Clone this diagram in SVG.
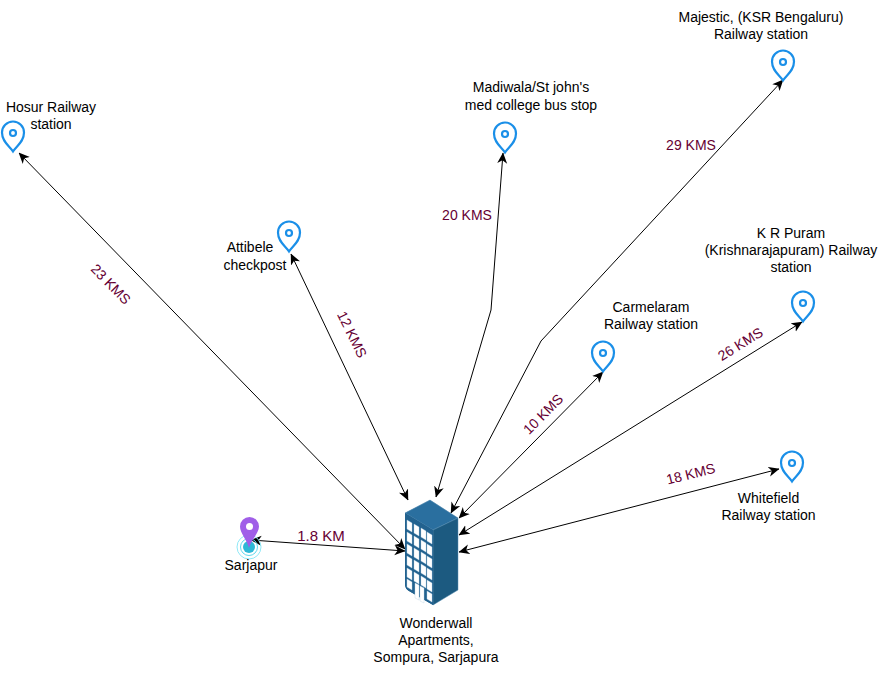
<svg xmlns="http://www.w3.org/2000/svg" width="881" height="675" viewBox="0 0 881 675">
<style>
text{font-family:"Liberation Sans",Arial,Helvetica,sans-serif;font-size:14px;fill:#000;text-anchor:middle}
.km{font-size:14px;fill:#660033}
.c{fill:none;stroke:#000;stroke-width:1;marker-start:url(#a);marker-end:url(#a)}
.pin{fill:none;stroke:#1a8fe8;stroke-width:2.2;stroke-linejoin:miter}
.win{fill:#fff;stroke:#bcd4e6;stroke-width:.4}
</style>
<defs>
<marker id="a" viewBox="0 0 10 10" refX="9.5" refY="5" markerWidth="11" markerHeight="11" markerUnits="userSpaceOnUse" orient="auto-start-reverse"><path d="M0 .5L10 5L0 9.500L2.800 5Z" fill="#000"/></marker>
<g id="p"><path class="pin" d="M0 15.500C-3.500 10-11 6-11 -3.500A11 11 0 0 1 11 -3.500C11 6 3.500 10 0 15.500Z"/><circle class="pin" cx="0" cy="-3" r="3" stroke-width="1.800"/></g>
</defs>
<g id="connectors">
<path class="c" d="M405 549L19 153"/>
<path class="c" d="M408 500L291 254"/>
<path class="c" d="M436 497L491 310L503 153"/>
<path class="c" d="M451 513L541 341L783 80"/>
<path class="c" d="M459 518L603 372"/>
<path class="c" d="M459 535L802 322"/>
<path class="c" d="M459 552L779 469"/>
<path class="c" d="M251 540L405 551"/>
</g>
<g id="labels">
<text class="km" transform="translate(110 285) rotate(45.500)" dominant-baseline="middle">23 KMS</text>
<text class="km" transform="translate(351 335) rotate(64)" dominant-baseline="middle">12 KMS</text>
<text class="km" x="467" y="220">20 KMS</text>
<text class="km" x="691" y="150">29 KMS</text>
<text class="km" transform="translate(544 415) rotate(-45)" dominant-baseline="middle">10 KMS</text>
<text class="km" transform="translate(741 345) rotate(-32)" dominant-baseline="middle">26 KMS</text>
<text class="km" transform="translate(691 475) rotate(-14)" dominant-baseline="middle">18 KMS</text>
<text class="km" x="321" y="541" style="font-size:15px">1.8 KM</text>
</g>
<g id="hosur"><use href="#p" x="13" y="136"/><text x="51" y="112">Hosur Railway</text><text x="51" y="129">station</text></g>
<g id="attibele"><use href="#p" x="289" y="236"/><text x="250" y="252">Attibele</text><text x="255" y="270">checkpost</text></g>
<g id="madiwala"><use href="#p" x="505" y="137"/><text x="531" y="92">Madiwala/St john's</text><text x="531" y="110">med college bus stop</text></g>
<g id="majestic"><use href="#p" x="783" y="65"/><text x="761" y="22">Majestic, (KSR Bengaluru)</text><text x="761" y="39">Railway station</text></g>
<g id="carmelaram"><use href="#p" x="603" y="356"/><text x="651" y="312">Carmelaram</text><text x="651" y="329">Railway station</text></g>
<g id="krpuram"><use href="#p" x="803" y="306"/><text x="791" y="238">K R Puram</text><text x="791" y="255">(Krishnarajapuram) Railway</text><text x="791" y="272">station</text></g>
<g id="whitefield"><use href="#p" x="792" y="466"/><text x="768.500" y="503">Whitefield</text><text x="768.500" y="520">Railway station</text></g>
<g id="sarjapur">
<circle cx="249" cy="547" r="12" fill="none" stroke="#8fe9f7" stroke-width="1"/>
<circle cx="249" cy="547" r="8.500" fill="none" stroke="#5fd9ee" stroke-width="1"/>
<circle cx="249" cy="547" r="6" fill="#2eb8d6"/>
<path d="M249 548C247 540 240 533 240 526.500A9.500 9.500 0 0 1 259 526.500C259 533 251 540 249 548Z" fill="#a05ee8"/>
<circle cx="249.500" cy="526.500" r="3.500" fill="#fff"/>
<text x="251" y="570">Sarjapur</text>
</g>
<g id="wonderwall">
<path d="M405 513L430 500L458 518V588L433 605L409 591Q405 589 405 584Z" fill="#1f5f8b"/>
<path d="M405 513L430 500L458 518L433 530Z" fill="#2a6f9f" stroke="#7fa8c6" stroke-width=".5"/>
<path d="M433 530L458 518V590L433 605Z" fill="#1c5a80" stroke="#5f92b5" stroke-width=".5"/>
<path d="M405 513L433 530V605L409 591Q405 589 405 584Z" fill="#22628f"/>
<g class="win" transform="translate(0 1)">
<path d="M407 519l5 3v9l-5-3zM414 523l5 3v9l-5-3zM421 527l5 3v9l-5-3zM427 531l5 3v9l-5-3z"/>
<path d="M407 531l5 3v9l-5-3zM414 535l5 3v9l-5-3zM421 539l5 3v9l-5-3zM427 543l5 3v9l-5-3z"/>
<path d="M407 543l5 3v9l-5-3zM414 547l5 3v9l-5-3zM421 551l5 3v9l-5-3zM427 555l5 3v9l-5-3z"/>
<path d="M407 555l5 3v9l-5-3zM414 559l5 3v9l-5-3zM421 563l5 3v9l-5-3zM427 567l5 3v9l-5-3z"/>
<path d="M407 567l5 3v9l-5-3zM414 571l5 3v9l-5-3zM421 575l5 3v9l-5-3zM427 579l5 3v9l-5-3z"/>
<path d="M407 578l5 3v8l-5-3zM427 590l5 3v8l-5-3zM415 582l4 2v15l-4-2zM420 585l4 2v15l-4-2z"/>
</g>
<text x="436" y="628">Wonderwall</text><text x="436" y="645">Apartments,</text><text x="436" y="662">Sompura, Sarjapura</text>
</g>
</svg>
